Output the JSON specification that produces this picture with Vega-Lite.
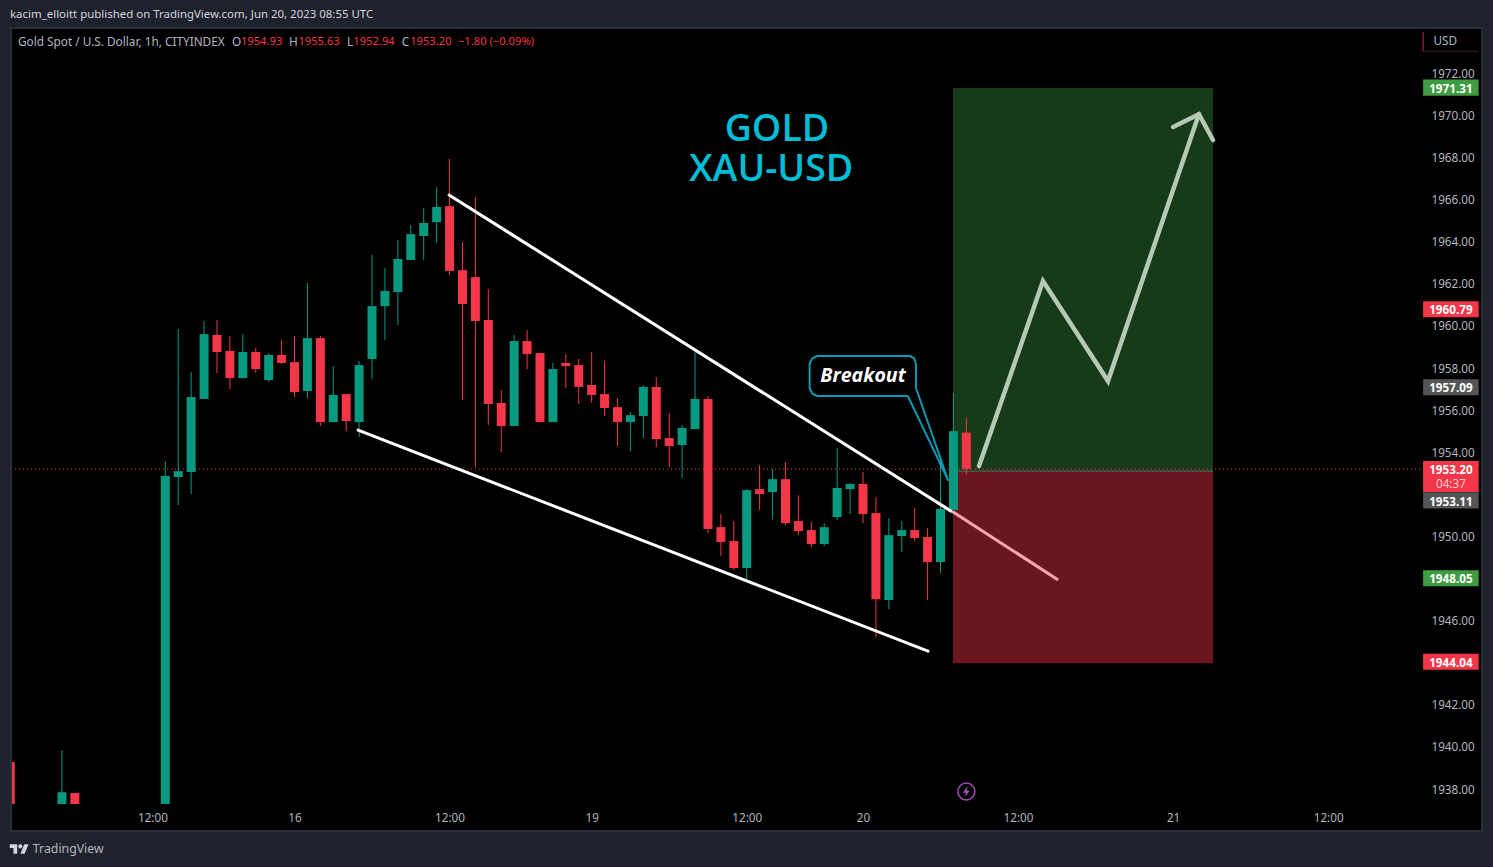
{
"$schema":"https://vega.github.io/schema/vega-lite/v6.json",
"width":1493,"height":867,"padding":0,"autosize":{"type":"none"},
"background":"#1e222d",
"config":{"view":{"stroke":null}},
"resolve":{"scale":{"fill":"independent","stroke":"independent"}},
"datasets":{
"candles":[
{"bar":-12,"open":1939.28,"high":1939.28,"low":1936.5,"close":1936.5},
{"bar":-8,"open":1936.5,"high":1939.85,"low":1936.5,"close":1937.85},
{"bar":-7,"open":1937.81,"high":1937.81,"low":1936.5,"close":1936.5},
{"bar":0,"open":1936.5,"high":1953.58,"low":1936.5,"close":1952.87},
{"bar":1,"open":1952.82,"high":1959.85,"low":1951.49,"close":1953.10},
{"bar":2,"open":1953.06,"high":1957.81,"low":1952.01,"close":1956.62},
{"bar":3,"open":1956.53,"high":1960.23,"low":1956.53,"close":1959.61},
{"bar":4,"open":1959.57,"high":1960.28,"low":1957.76,"close":1958.76},
{"bar":5,"open":1958.81,"high":1959.52,"low":1957.00,"close":1957.52},
{"bar":6,"open":1957.52,"high":1959.61,"low":1957.52,"close":1958.76},
{"bar":7,"open":1958.76,"high":1958.95,"low":1957.76,"close":1957.95},
{"bar":8,"open":1957.43,"high":1958.71,"low":1957.33,"close":1958.62},
{"bar":9,"open":1958.62,"high":1959.33,"low":1958.19,"close":1958.24},
{"bar":10,"open":1958.28,"high":1959.52,"low":1956.62,"close":1956.86},
{"bar":11,"open":1956.91,"high":1962.04,"low":1956.57,"close":1959.42},
{"bar":12,"open":1959.42,"high":1959.52,"low":1955.24,"close":1955.43},
{"bar":13,"open":1955.43,"high":1958.09,"low":1955.43,"close":1956.72},
{"bar":14,"open":1956.76,"high":1956.76,"low":1955.00,"close":1955.48},
{"bar":15,"open":1955.43,"high":1958.33,"low":1954.72,"close":1958.14},
{"bar":16,"open":1958.43,"high":1963.37,"low":1957.48,"close":1960.94},
{"bar":17,"open":1960.94,"high":1962.75,"low":1959.33,"close":1961.66},
{"bar":18,"open":1961.61,"high":1964.08,"low":1960.04,"close":1963.18},
{"bar":19,"open":1963.13,"high":1964.79,"low":1963.13,"close":1964.36},
{"bar":20,"open":1964.27,"high":1965.60,"low":1963.13,"close":1964.89},
{"bar":21,"open":1964.93,"high":1966.60,"low":1963.94,"close":1965.65},
{"bar":22,"open":1965.69,"high":1967.93,"low":1962.42,"close":1962.61},
{"bar":23,"open":1962.65,"high":1963.98,"low":1956.48,"close":1961.04},
{"bar":24,"open":1962.32,"high":1966.12,"low":1953.29,"close":1960.23},
{"bar":25,"open":1960.28,"high":1961.75,"low":1955.29,"close":1956.29},
{"bar":26,"open":1956.34,"high":1956.95,"low":1954.01,"close":1955.24},
{"bar":27,"open":1955.24,"high":1959.57,"low":1955.24,"close":1959.28},
{"bar":28,"open":1959.28,"high":1959.80,"low":1957.95,"close":1958.66},
{"bar":29,"open":1958.71,"high":1958.71,"low":1955.43,"close":1955.43},
{"bar":30,"open":1955.43,"high":1958.24,"low":1955.43,"close":1957.95},
{"bar":31,"open":1958.24,"high":1958.66,"low":1957.05,"close":1958.09},
{"bar":32,"open":1958.14,"high":1958.43,"low":1956.29,"close":1957.10},
{"bar":33,"open":1957.19,"high":1958.76,"low":1956.34,"close":1956.72},
{"bar":34,"open":1956.76,"high":1958.33,"low":1955.72,"close":1956.10},
{"bar":35,"open":1956.14,"high":1956.57,"low":1954.29,"close":1955.43},
{"bar":36,"open":1955.43,"high":1955.91,"low":1954.05,"close":1955.76},
{"bar":37,"open":1955.72,"high":1957.19,"low":1954.67,"close":1957.10},
{"bar":38,"open":1957.10,"high":1957.57,"low":1954.24,"close":1954.62},
{"bar":39,"open":1954.67,"high":1955.86,"low":1953.29,"close":1954.29},
{"bar":40,"open":1954.34,"high":1955.29,"low":1952.77,"close":1955.15},
{"bar":41,"open":1955.10,"high":1958.76,"low":1955.10,"close":1956.53},
{"bar":42,"open":1956.53,"high":1956.67,"low":1950.16,"close":1950.35},
{"bar":43,"open":1950.44,"high":1951.06,"low":1949.07,"close":1949.73},
{"bar":44,"open":1949.78,"high":1950.73,"low":1948.40,"close":1948.50},
{"bar":45,"open":1948.50,"high":1952.25,"low":1947.88,"close":1952.20},
{"bar":46,"open":1952.25,"high":1953.39,"low":1951.25,"close":1952.01},
{"bar":47,"open":1952.11,"high":1953.20,"low":1950.82,"close":1952.72},
{"bar":48,"open":1952.72,"high":1953.53,"low":1950.54,"close":1950.63},
{"bar":49,"open":1950.73,"high":1951.96,"low":1950.06,"close":1950.25},
{"bar":50,"open":1950.30,"high":1950.68,"low":1949.49,"close":1949.64},
{"bar":51,"open":1949.64,"high":1950.63,"low":1949.54,"close":1950.44},
{"bar":52,"open":1950.92,"high":1954.20,"low":1950.78,"close":1952.30},
{"bar":53,"open":1952.25,"high":1952.53,"low":1951.06,"close":1952.49},
{"bar":54,"open":1952.49,"high":1953.06,"low":1950.63,"close":1951.06},
{"bar":55,"open":1951.11,"high":1951.87,"low":1945.22,"close":1947.02},
{"bar":56,"open":1946.98,"high":1950.87,"low":1946.55,"close":1950.06},
{"bar":57,"open":1950.02,"high":1950.73,"low":1949.26,"close":1950.30},
{"bar":58,"open":1950.30,"high":1951.35,"low":1949.78,"close":1949.92},
{"bar":59,"open":1949.97,"high":1950.40,"low":1946.98,"close":1948.78},
{"bar":60,"open":1948.78,"high":1953.67,"low":1948.26,"close":1951.30},
{"bar":61,"open":1951.25,"high":1956.81,"low":1951.25,"close":1955.00},
{"bar":62,"open":1954.93,"high":1955.63,"low":1952.94,"close":1953.20}
],
"lines":[
{"line":"upper","step":1,"bar":21.96,"price":1966.22},
{"line":"upper","step":2,"bar":60.81,"price":1951.20},
{"line":"lower","step":1,"bar":14.92,"price":1955.05},
{"line":"lower","step":2,"bar":59.03,"price":1944.55},
{"line":"upperShaded","step":1,"bar":60.97,"price":1951.16},
{"line":"upperShaded","step":2,"bar":69.02,"price":1947.97}
],
"arrow":[
{"line":"path","step":1,"bar":62.98,"price":1953.34},
{"line":"path","step":2,"bar":67.93,"price":1962.13},
{"line":"path","step":3,"bar":72.96,"price":1957.38},
{"line":"path","step":4,"bar":80.0,"price":1970.06},
{"line":"head","step":1,"bar":78.0,"price":1969.45},
{"line":"head","step":2,"bar":80.0,"price":1970.06},
{"line":"head","step":3,"bar":81.09,"price":1968.83}
],
"callout":[
{"step":1,"bar":57.47,"price":1956.67},
{"step":2,"bar":50.44,"price":1956.67},
{"step":3,"bar":50.05,"price":1956.8},
{"step":4,"bar":49.87,"price":1957.05},
{"step":5,"bar":49.87,"price":1958.19},
{"step":6,"bar":50.05,"price":1958.45},
{"step":7,"bar":50.44,"price":1958.57},
{"step":8,"bar":57.63,"price":1958.57},
{"step":9,"bar":57.95,"price":1958.47},
{"step":10,"bar":58.1,"price":1958.19},
{"step":11,"bar":58.1,"price":1957.05},
{"step":12,"bar":60.58,"price":1952.68},
{"step":13,"bar":57.47,"price":1956.67}
],
"zones":[
{"zone":"target","bar":60.96,"bar2":81.09,"price":1953.10,"price2":1971.30},
{"zone":"stop","bar":60.96,"bar2":81.09,"price":1943.98,"price2":1953.10}
],
"tags":[
{"label":"1971.31","kind":"up","price":1971.31,"bottom":1970.93,"top":1971.70},
{"label":"1960.79","kind":"down","price":1960.79,"bottom":1960.41,"top":1961.17},
{"label":"1957.09","kind":"neutral","price":1957.09,"bottom":1956.71,"top":1957.47},
{"label":"1953.11","kind":"neutral","price":1951.68,"bottom":1951.33,"top":1952.10},
{"label":"1948.05","kind":"up","price":1948.02,"bottom":1947.63,"top":1948.39},
{"label":"1944.04","kind":"down","price":1944.04,"bottom":1943.66,"top":1944.42},
{"label":"1953.20","kind":"down","price":1953.20,"bottom":1952.11,"top":1953.58}
]
},
"layer":[
{"data":{"values":[{"bar":-11.94,"bar2":101.91,"price":1936.0,"price2":1974.15}]},
 "mark":{"type":"rect","fill":"#000000"},
 "encoding":{
  "x":{"field":"bar","type":"quantitative","scale":{"domain":[-12.794,102.76],"nice":false,"zero":false,"padding":0},
   "axis":{"title":null,"orient":"bottom","domain":false,"ticks":false,"grid":false,"zindex":1,"values":[-1,10,22,33,45,54,66,78,90],"labelExpr":"({'-1':'12:00','10':'16','22':'12:00','33':'19','45':'12:00','54':'20','66':'12:00','78':'21','90':'12:00'})[datum.value]","labelPadding":-50,"labelBaseline":"middle","labelFont":"Noto Sans","labelFontSize":11.7,"labelColor":"#b2b5be","labelOverlap":false,"labelFlush":false}},
  "x2":{"field":"bar2"},
  "y":{"field":"price","type":"quantitative","scale":{"domain":[1934.295,1975.482],"nice":false,"zero":false,"padding":0},
   "axis":{"title":null,"orient":"right","domain":false,"ticks":false,"grid":false,"zindex":1,"values":[1938,1940,1942,1946,1950,1954,1956,1958,1960,1962,1964,1966,1968,1970,1972],"format":".2f","labelPadding":-62,"labelAlign":"left","labelBaseline":"middle","labelFont":"Noto Sans","labelFontSize":11.7,"labelColor":"#b2b5be","labelOverlap":false,"labelFlush":false}},
  "y2":{"field":"price2"}}},
{"data":{"name":"zones"},
 "mark":{"type":"rect"},
 "encoding":{"x":{"field":"bar","type":"quantitative"},"x2":{"field":"bar2"},"y":{"field":"price","type":"quantitative"},"y2":{"field":"price2"},
  "fill":{"field":"zone","type":"nominal","legend":null,"scale":{"domain":["target","stop"],"range":["#173a19","#6a161e"]}}}},
{"data":{"values":[{"bar":60.96,"bar2":81.09,"price":1953.10}]},
 "mark":{"type":"rule","stroke":"#666666","strokeWidth":1},
 "encoding":{"x":{"field":"bar","type":"quantitative"},"x2":{"field":"bar2"},"y":{"field":"price","type":"quantitative"}}},
{"data":{"values":[{"bar":-11.94,"bar2":97.35,"price":1953.20}]},
 "mark":{"type":"rule","stroke":"#f23645","strokeWidth":1,"strokeDash":[1,3]},
 "encoding":{"x":{"field":"bar","type":"quantitative"},"x2":{"field":"bar2"},"y":{"field":"price","type":"quantitative"}}},
{"data":{"name":"candles"},
 "transform":[{"calculate":"datum.close>=datum.open?'up':'down'","as":"dir"}],
 "mark":{"type":"rule","strokeWidth":1},
 "encoding":{"x":{"field":"bar","type":"quantitative"},"y":{"field":"low","type":"quantitative"},"y2":{"field":"high"},
  "stroke":{"field":"dir","type":"nominal","legend":null,"scale":{"domain":["up","down"],"range":["#089981","#f43649"]}}}},
{"data":{"name":"candles"},
 "transform":[{"calculate":"datum.close>=datum.open?'up':'down'","as":"dir"}],
 "mark":{"type":"bar","size":9,"orient":"vertical"},
 "encoding":{"x":{"field":"bar","type":"quantitative"},"y":{"field":"open","type":"quantitative"},"y2":{"field":"close"},
  "fill":{"field":"dir","type":"nominal","legend":null,"scale":{"domain":["up","down"],"range":["#089981","#f43649"]}}}},
{"data":{"name":"lines"},
 "mark":{"type":"line","strokeCap":"round","strokeWidth":3},
 "encoding":{"x":{"field":"bar","type":"quantitative"},"y":{"field":"price","type":"quantitative"},"order":{"field":"step","type":"quantitative"},
  "detail":{"field":"line","type":"nominal"},
  "stroke":{"field":"line","type":"nominal","legend":null,"scale":{"domain":["upper","lower","upperShaded"],"range":["#ffffff","#ffffff","#f4a9b0"]}}}},
{"data":{"name":"arrow"},
 "mark":{"type":"line","strokeCap":"round","strokeJoin":"miter","strokeWidth":4.5,"stroke":"#b7c8b5"},
 "encoding":{"x":{"field":"bar","type":"quantitative"},"y":{"field":"price","type":"quantitative"},"order":{"field":"step","type":"quantitative"},
  "detail":{"field":"line","type":"nominal"}}},
{"data":{"name":"callout"},
 "mark":{"type":"line","stroke":"#0b99b3","strokeWidth":2,"strokeJoin":"round"},
 "encoding":{"x":{"field":"bar","type":"quantitative"},"y":{"field":"price","type":"quantitative"},"order":{"field":"step","type":"quantitative"}}},
{"data":{"values":[{"bar":-12.794,"bar2":-11.94,"price":1936.0,"price2":1974.15,"part":"edge"},{"bar":-11.94,"bar2":97.35,"price":1936.0,"price2":1937.29,"part":"band"}]},
 "mark":{"type":"rect"},
 "encoding":{"x":{"field":"bar","type":"quantitative"},"x2":{"field":"bar2"},"y":{"field":"price","type":"quantitative"},"y2":{"field":"price2"},
  "fill":{"field":"part","type":"nominal","legend":null,"scale":{"domain":["edge","band"],"range":["#1e222d","#000000"]}}}},
{"data":{"values":[{"bar":-11.94,"bar2":101.91,"price":1936.0,"price2":1974.15}]},
 "mark":{"type":"rect","fillOpacity":0,"stroke":"#2a2e39","strokeWidth":2},
 "encoding":{"x":{"field":"bar","type":"quantitative"},"x2":{"field":"bar2"},"y":{"field":"price","type":"quantitative"},"y2":{"field":"price2"}}},
{"data":{"values":[{"bar":97.35,"price":1973.95,"price2":1973.05}]},
 "mark":{"type":"rule","stroke":"#f23645","strokeOpacity":0.8,"strokeWidth":1},
 "encoding":{"x":{"field":"bar","type":"quantitative"},"y":{"field":"price","type":"quantitative"},"y2":{"field":"price2"}}},
{"data":{"values":[{"bar":97.35,"bar2":101.6,"price":1973.05}]},
 "mark":{"type":"rule","stroke":"#4a1a20","strokeWidth":1},
 "encoding":{"x":{"field":"bar","type":"quantitative"},"x2":{"field":"bar2"},"y":{"field":"price","type":"quantitative"}}},
{"data":{"name":"tags"},
 "transform":[{"calculate":"101.65","as":"tagEnd"},{"calculate":"97.35","as":"tagStart"}],
 "mark":{"type":"rect"},
 "encoding":{"x":{"field":"tagStart","type":"quantitative"},"x2":{"field":"tagEnd"},"y":{"field":"bottom","type":"quantitative"},"y2":{"field":"top"},
  "fill":{"field":"kind","type":"nominal","legend":null,"scale":{"domain":["up","down","neutral"],"range":["#3f9c43","#f43649","#555555"]}}}},
{"data":{"name":"tags"},
 "transform":[{"calculate":"99.5","as":"tagMid"}],
 "mark":{"type":"text","font":"Noto Sans","fontSize":11.7,"fontWeight":"bold","fill":"#ffffff","align":"center","baseline":"middle","dy":1},
 "encoding":{"x":{"field":"tagMid","type":"quantitative"},"y":{"field":"price","type":"quantitative"},"text":{"field":"label"}}},
{"data":{"values":[{"bar":99.5,"price":1952.51,"text":"04:37"}]},
 "mark":{"type":"text","font":"Noto Sans","fontSize":11.7,"fill":"#ffd0d4","align":"center","baseline":"middle"},
 "encoding":{"x":{"field":"bar","type":"quantitative"},"y":{"field":"price","type":"quantitative"},"text":{"field":"text"}}},
{"data":{"values":[{"bar":98.15,"price":1973.55,"text":"USD"}]},
 "mark":{"type":"text","font":"Noto Sans","fontSize":11.7,"fill":"#b2b5be","align":"left","baseline":"middle"},
 "encoding":{"x":{"field":"bar","type":"quantitative"},"y":{"field":"price","type":"quantitative"},"text":{"field":"text"}}},
{"data":{"values":[{"bar":-12.02,"price":1974.77,"text":"kacim_elloitt published on TradingView.com, Jun 20, 2023 08:55 UTC"}]},
 "mark":{"type":"text","font":"Noto Sans","fontSize":11.45,"align":"left","baseline":"middle","fill":"#d1d4dc"},
 "encoding":{"x":{"field":"bar","type":"quantitative"},"y":{"field":"price","type":"quantitative"},"text":{"field":"text"}}},
{"data":{"values":[
 {"bar":-11.4,"price":1973.5,"text":"Gold Spot / U.S. Dollar, 1h, CITYINDEX"},
 {"bar":5.16,"price":1973.5,"text":"O"},
 {"bar":9.58,"price":1973.5,"text":"H"},
 {"bar":14.07,"price":1973.5,"text":"L"},
 {"bar":18.3,"price":1973.5,"text":"C"}
 ]},
 "mark":{"type":"text","font":"Noto Sans","fontSize":11.8,"align":"left","baseline":"middle","fill":"#b2b5be"},
 "encoding":{"x":{"field":"bar","type":"quantitative"},"y":{"field":"price","type":"quantitative"},"text":{"field":"text"}}},
{"data":{"values":[
 {"bar":5.85,"price":1973.5,"text":"1954.93"},
 {"bar":10.3,"price":1973.5,"text":"1955.63"},
 {"bar":14.55,"price":1973.5,"text":"1952.94"},
 {"bar":18.95,"price":1973.5,"text":"1953.20"},
 {"bar":22.65,"price":1973.5,"text":"−1.80 (−0.09%)"}
 ]},
 "mark":{"type":"text","font":"Noto Sans","fontSize":11.2,"align":"left","baseline":"middle","fill":"#f23645"},
 "encoding":{"x":{"field":"bar","type":"quantitative"},"y":{"field":"price","type":"quantitative"},"text":{"field":"text"}}},
{"data":{"values":[{"bar":-10.25,"price":1935.15,"text":"TradingView"}]},
 "mark":{"type":"text","font":"Noto Sans","fontSize":12.3,"align":"left","baseline":"middle","fill":"#b2b5be"},
 "encoding":{"x":{"field":"bar","type":"quantitative"},"y":{"field":"price","type":"quantitative"},"text":{"field":"text"}}},
{"data":{"values":[{"bar":47.34,"price":1969.31,"text":"GOLD"},{"bar":46.9,"price":1967.4,"text":"XAU-USD"}]},
 "mark":{"type":"text","font":"Open Sans","fontSize":37.5,"fontWeight":600,"fill":"#00bcd4","align":"center","baseline":"middle"},
 "encoding":{"x":{"field":"bar","type":"quantitative"},"y":{"field":"price","type":"quantitative"},"text":{"field":"text"}}},
{"data":{"values":[{"bar":54.0,"price":1957.63,"text":"Breakout"}]},
 "mark":{"type":"text","font":"Open Sans","fontSize":19.6,"fontWeight":"bold","fontStyle":"italic","fill":"#ffffff","align":"center","baseline":"middle"},
 "encoding":{"x":{"field":"bar","type":"quantitative"},"y":{"field":"price","type":"quantitative"},"text":{"field":"text"}}},
{"data":{"values":[{"bar":62,"price":1937.88}]},
 "mark":{"type":"point","shape":"circle","size":290,"filled":false,"stroke":"#ab47bc","strokeWidth":1.5,"opacity":1},
 "encoding":{"x":{"field":"bar","type":"quantitative"},"y":{"field":"price","type":"quantitative"}}},
{"data":{"values":[{"bar":62,"price":1937.88}]},
 "mark":{"type":"point","shape":"M0.1 -0.5L-0.3 0.1H-0.05L-0.1 0.5L0.3 -0.1H0.05Z","size":484,"filled":true,"fill":"#ab47bc","strokeWidth":0,"opacity":1},
 "encoding":{"x":{"field":"bar","type":"quantitative"},"y":{"field":"price","type":"quantitative"}}},
{"data":{"values":[{"bar":-11.3,"price":1935.15}]},
 "mark":{"type":"point","shape":"M-0.111 0.25H-0.306V-0.056H-0.5V-0.25H-0.111ZM0.278 0.25H0.056L0.264 -0.25H0.486ZM-0.055 -0.139a0.111 0.111 0 1 0 0.222 0a0.111 0.111 0 1 0 -0.222 0Z","size":1444,"filled":true,"fill":"#d1d4dc","strokeWidth":0,"opacity":1},
 "encoding":{"x":{"field":"bar","type":"quantitative"},"y":{"field":"price","type":"quantitative"}}}
]
}
